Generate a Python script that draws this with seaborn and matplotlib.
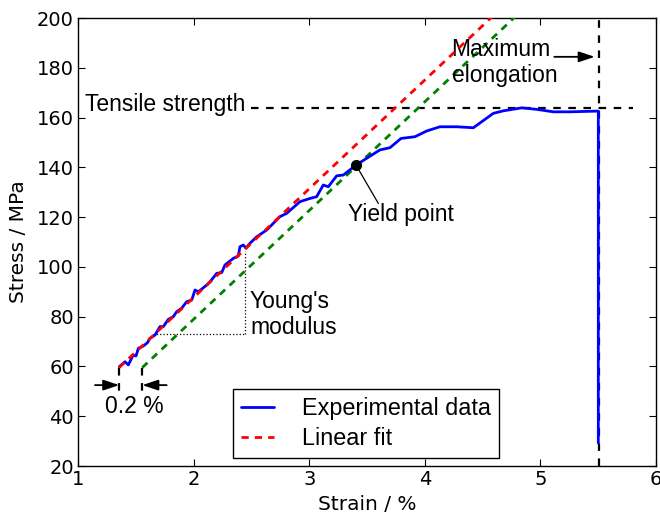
import matplotlib
matplotlib.use("Agg")
import matplotlib.pyplot as plt
import seaborn as sns
import pandas as pd

# ---- data ----
strain = [1.357, 1.407, 1.435, 1.478, 1.502, 1.522, 1.565, 1.600, 1.623, 1.666,
          1.709, 1.738, 1.781, 1.824, 1.854, 1.897, 1.940, 1.984, 2.012, 2.041,
          2.113, 2.142, 2.200, 2.243, 2.272, 2.343, 2.387, 2.401, 2.430, 2.453,
          2.488, 2.546, 2.632, 2.747, 2.805, 2.920, 3.007, 3.064, 3.122, 3.165,
          3.238, 3.295, 3.405, 3.540, 3.612, 3.699, 3.794, 3.915, 4.016, 4.131,
          4.276, 4.420, 4.593, 4.680, 4.838, 4.968, 5.112, 5.256, 5.501, 5.501]
stress = [59.9, 61.9, 60.6, 64.6, 64.2, 67.3, 68.2, 69.5, 71.3, 72.6,
          76.0, 76.0, 78.9, 80.0, 82.0, 83.4, 86.0, 86.7, 90.7, 90.0,
          92.7, 94.0, 97.4, 97.7, 100.8, 103.4, 104.4, 108.1, 108.8, 107.5,
          109.5, 112.1, 114.8, 120.2, 121.5, 126.2, 127.5, 128.2, 132.9, 132.2,
          136.6, 136.9, 140.9, 144.9, 147.0, 147.9, 151.6, 152.3, 154.6, 156.3,
          156.3, 155.9, 161.7, 162.7, 163.9, 163.3, 162.3, 162.3, 162.6, 29.2]

fit_strain = [1.355, 4.60]
fit_stress = [59.5, 201.3]
offset_strain = [1.555, 4.80]
offset_stress = [59.5, 201.3]

tensile_strength = 164.0
max_elongation = 5.51
yield_strain, yield_stress = 3.405, 140.9
x_ticks = [1, 2, 3, 4, 5, 6]
y_ticks = [20, 40, 60, 80, 100, 120, 140, 160, 180, 200]

df = pd.DataFrame({"Strain": strain, "Stress": stress})
fit_df = pd.DataFrame({"Strain": fit_strain, "Stress": fit_stress})
off_df = pd.DataFrame({"Strain": offset_strain, "Stress": offset_stress})

sns.set_style("ticks")
plt.rcParams["font.family"] = ["DejaVu Sans"]
for k in ["text.color", "axes.labelcolor", "xtick.color", "ytick.color", "axes.edgecolor"]:
    plt.rcParams[k] = "black"

fig = plt.figure(figsize=(6.6, 5.2), dpi=100)
ax = fig.add_axes([78 / 660, 54 / 520, 578 / 660, 448 / 520])

ANN = dict(family=["Liberation Sans", "DejaVu Sans"], fontsize=16.5, color="black")
dash = (0, (2.6, 2.2))
kdash = (0, (3.4, 3.4))

# black reference lines (under the curve)
ax.plot([2.5, 5.8], [tensile_strength, tensile_strength], color="black", lw=1.6,
        linestyle=kdash, zorder=2)
ax.plot([max_elongation, max_elongation], [20, 200], color="black", lw=1.6,
        linestyle=kdash, zorder=2)

sns.lineplot(data=off_df, x="Strain", y="Stress", ax=ax, color="green", lw=2,
             linestyle=dash, zorder=3)
sns.lineplot(data=df, x="Strain", y="Stress", ax=ax, color="blue", lw=2,
             sort=False, estimator=None, zorder=4, label="Experimental data")
sns.lineplot(data=fit_df, x="Strain", y="Stress", ax=ax, color="red", lw=2,
             linestyle=dash, zorder=5, label="Linear fit")

# yield point
ax.plot([yield_strain], [yield_stress], "o", color="black", ms=7, zorder=7)
ax.plot([yield_strain, 3.598], [yield_stress, 125.5], color="black", lw=0.9, zorder=6)
ax.text(3.336, 118.6, "Yield point", ha="left", va="baseline", **ANN)

# Young's modulus triangle
ax.plot([1.651, 2.445], [73.0, 73.0], color="black", lw=0.9, linestyle=":", zorder=3)
ax.plot([2.445, 2.445], [73.0, 106.5], color="black", lw=0.9, linestyle=":", zorder=3)
ax.text(2.488, 81.0, "Young's\nmodulus", ha="left", va="center", linespacing=1.15, **ANN)

# tensile strength
ax.text(1.061, 162.6, "Tensile strength", ha="left", va="baseline", **ANN)

# maximum elongation
ax.text(4.232, 182.0, "Maximum\nelongation", ha="left", va="center", linespacing=1.15, **ANN)
ax.annotate("", xy=(5.47, 184.4), xytext=(5.12, 184.4),
            arrowprops=dict(arrowstyle="-|>,head_length=0.6,head_width=0.2",
                            color="black", lw=1.3,
                            mutation_scale=16, shrinkA=0, shrinkB=0))

# 0.2 % offset
ax.plot([1.357, 1.357], [59.5, 49.7], color="black", lw=1.6, linestyle=kdash, zorder=2)
ax.plot([1.556, 1.556], [59.5, 49.7], color="black", lw=1.6, linestyle=kdash, zorder=2)
ax.annotate("", xy=(1.357, 52.5), xytext=(1.147, 52.5),
            arrowprops=dict(arrowstyle="-|>,head_length=0.6,head_width=0.2",
                            color="black", lw=1.3,
                            mutation_scale=16, shrinkA=0, shrinkB=0))
ax.annotate("", xy=(1.556, 52.5), xytext=(1.767, 52.5),
            arrowprops=dict(arrowstyle="-|>,head_length=0.6,head_width=0.2",
                            color="black", lw=1.3,
                            mutation_scale=16, shrinkA=0, shrinkB=0))
ax.text(1.487, 41.2, "0.2 %", ha="center", va="baseline", **ANN)

ax.set_xlim(1, 6)
ax.set_ylim(20, 200)
ax.set_xticks(x_ticks)
ax.set_yticks(y_ticks)
ax.set_xlabel("Strain / %", fontsize=14.5, labelpad=4, color="black")
ax.set_ylabel("Stress / MPa", fontsize=14.5, labelpad=6, color="black")
ax.tick_params(direction="in", top=True, right=True, length=5, width=0.8,
               labelsize=14, pad=3, color="black", labelcolor="black")
for s in ax.spines.values():
    s.set_visible(True)
    s.set_color("black")
    s.set_linewidth(1.0)

handles, labels = ax.get_legend_handles_labels()
order = [labels.index("Experimental data"), labels.index("Linear fit")]
leg = ax.legend([handles[i] for i in order], [labels[i] for i in order],
                loc="lower left", bbox_to_anchor=(0.268, 0.018), borderaxespad=0,
                frameon=True, fancybox=False, edgecolor="black", framealpha=1,
                prop={"family": ["Liberation Sans", "DejaVu Sans"], "size": 16.8},
                handlelength=1.4, handletextpad=1.2, labelspacing=0.28,
                borderpad=0.35)
leg.get_frame().set_linewidth(1.0)
for t in leg.get_texts():
    t.set_color("black")

fig.savefig("out.png", dpi=100)
